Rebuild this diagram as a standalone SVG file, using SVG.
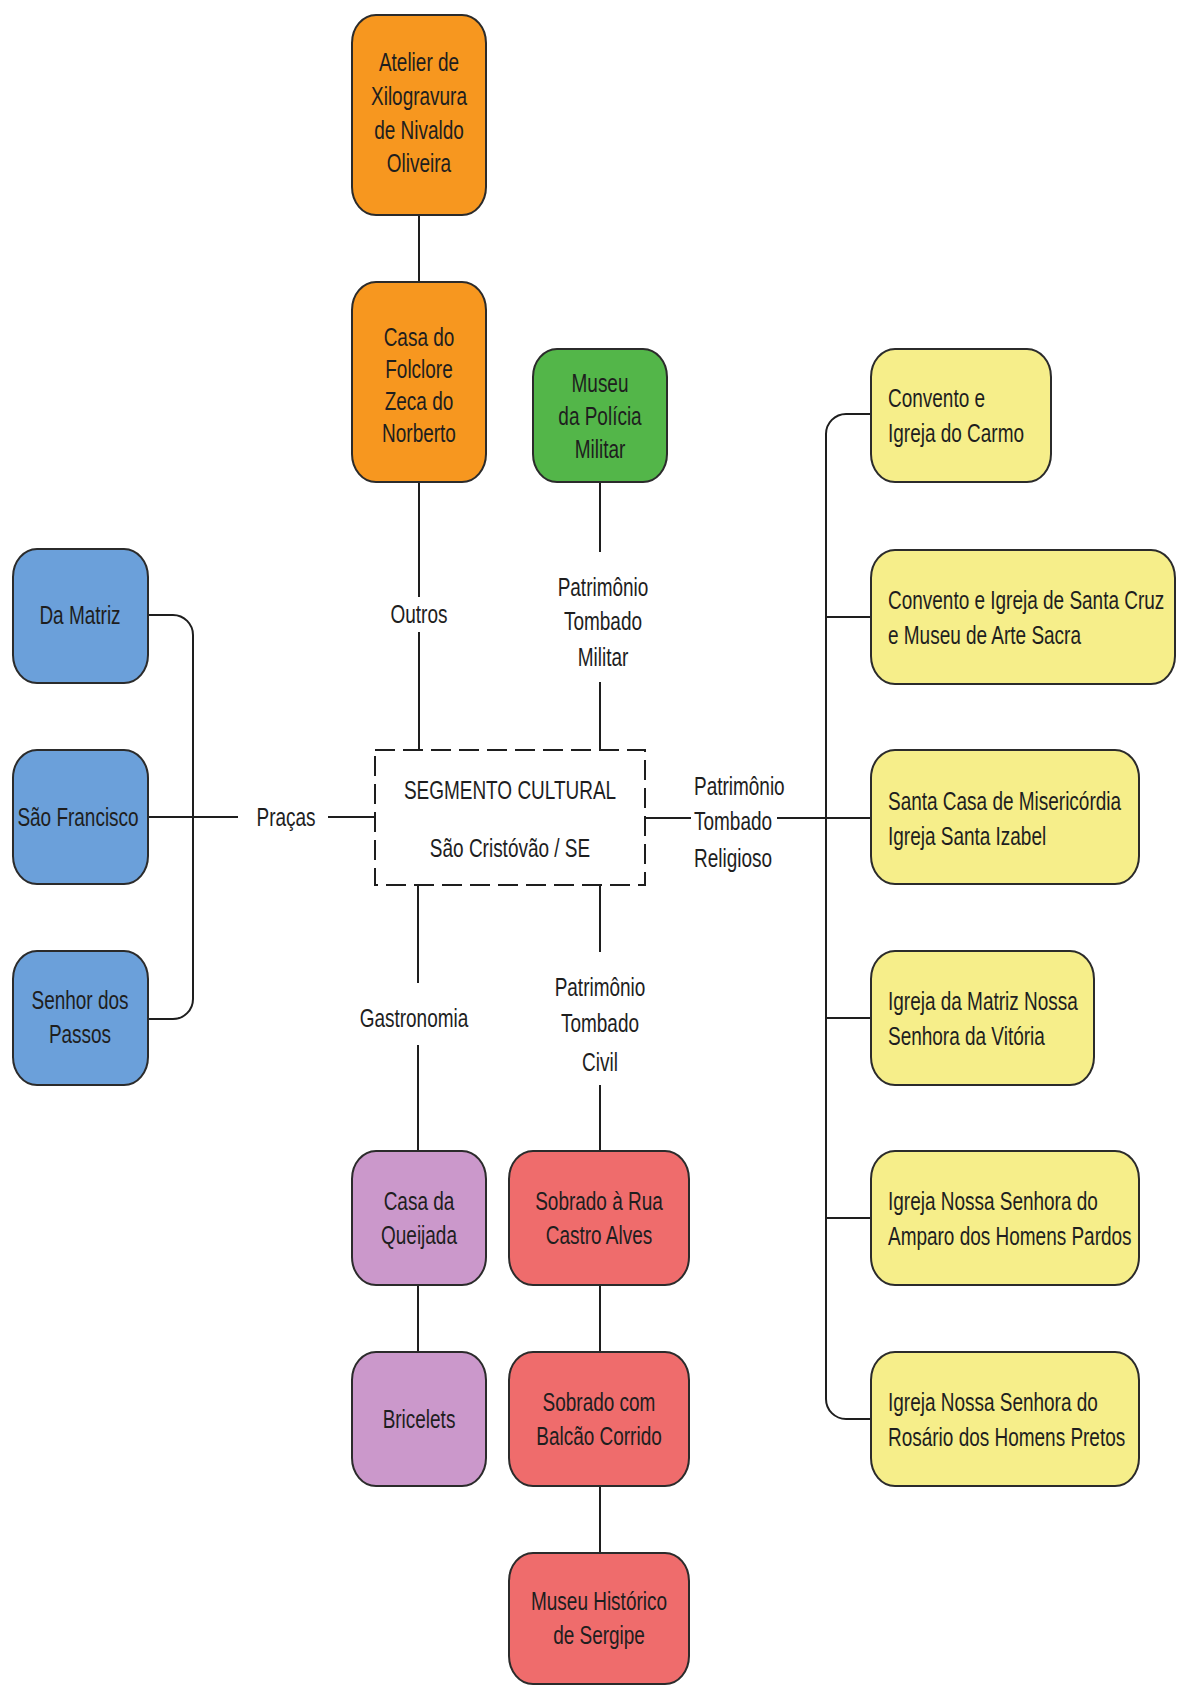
<svg xmlns="http://www.w3.org/2000/svg" width="1177" height="1686" viewBox="0 0 1177 1686">
<style>
.t{font-family:"Liberation Sans",Arial,sans-serif;font-size:26px;fill:#1e1e1e}
.c{text-anchor:middle}
.s{text-anchor:start}
.box{stroke:#2b2b2b;stroke-width:2}
.or{fill:#F7971F}
.gr{fill:#53B649}
.bl{fill:#6BA0DA}
.ye{fill:#F6EE8A}
.pu{fill:#CB98CB}
.rd{fill:#EF6C6C}
.ln{stroke:#1e1e1e;stroke-width:2;fill:none}
</style>
<rect width="1177" height="1686" fill="#ffffff"/>
<g id="connectors">
<line class="ln" x1="419" y1="215" x2="419" y2="282"/>
<line class="ln" x1="419" y1="482" x2="419" y2="597"/>
<line class="ln" x1="419" y1="632" x2="419" y2="750"/>
<line class="ln" x1="600" y1="482" x2="600" y2="552"/>
<line class="ln" x1="600" y1="682" x2="600" y2="750"/>
<line class="ln" x1="418" y1="885" x2="418" y2="983"/>
<line class="ln" x1="418" y1="1045" x2="418" y2="1151"/>
<line class="ln" x1="600" y1="885" x2="600" y2="952"/>
<line class="ln" x1="600" y1="1085" x2="600" y2="1151"/>
<line class="ln" x1="418" y1="1285" x2="418" y2="1352"/>
<line class="ln" x1="600" y1="1285" x2="600" y2="1352"/>
<line class="ln" x1="600" y1="1486" x2="600" y2="1553"/>
<line class="ln" x1="148" y1="817" x2="238" y2="817"/>
<line class="ln" x1="328" y1="817" x2="375" y2="817"/>
<path class="ln" d="M148,615 H173 A20,20 0 0 1 193,635 V999 A20,20 0 0 1 173,1019 H148"/>
<line class="ln" x1="645" y1="818" x2="691" y2="818"/>
<line class="ln" x1="777" y1="818" x2="871" y2="818"/>
<path class="ln" d="M871,414 H846 A20,20 0 0 0 826,434 V1399 A20,20 0 0 0 846,1419 H871"/>
<line class="ln" x1="826" y1="617" x2="871" y2="617"/>
<line class="ln" x1="826" y1="1018" x2="871" y2="1018"/>
<line class="ln" x1="826" y1="1218" x2="871" y2="1218"/>
<text class="t c" transform="translate(419 0) scale(0.73 1)"><tspan x="0" y="623">Outros</tspan></text>
<text class="t c" transform="translate(603 0) scale(0.73 1)"><tspan x="0" y="596">Patrimônio</tspan><tspan x="0" y="630">Tombado</tspan><tspan x="0" y="666">Militar</tspan></text>
<text class="t c" transform="translate(414 0) scale(0.73 1)"><tspan x="0" y="1027">Gastronomia</tspan></text>
<text class="t c" transform="translate(600 0) scale(0.73 1)"><tspan x="0" y="996">Patrimônio</tspan><tspan x="0" y="1032">Tombado</tspan><tspan x="0" y="1071">Civil</tspan></text>
<text class="t c" transform="translate(286 0) scale(0.73 1)"><tspan x="0" y="826">Praças</tspan></text>
<text class="t s" transform="translate(694 0) scale(0.73 1)"><tspan x="0" y="795">Patrimônio</tspan><tspan x="0" y="830">Tombado</tspan><tspan x="0" y="867">Religioso</tspan></text>
</g>
<g id="center">
<rect x="375" y="750" width="270" height="135" fill="#ffffff" stroke="#1e1e1e" stroke-width="2" stroke-dasharray="20 8"/>
<text class="t c" transform="translate(510 0) scale(0.73 1)"><tspan x="0" y="799">SEGMENTO CULTURAL</tspan><tspan x="0" y="857">São Cristóvão / SE</tspan></text>
</g>
<g id="atelier">
<rect class="box or" x="352" y="15" width="134" height="200" rx="24" ry="28"/>
<text class="t c" transform="translate(419 0) scale(0.73 1)"><tspan x="0" y="71">Atelier de</tspan><tspan x="0" y="105">Xilogravura</tspan><tspan x="0" y="139">de Nivaldo</tspan><tspan x="0" y="172">Oliveira</tspan></text>
</g>
<g id="folclore">
<rect class="box or" x="352" y="282" width="134" height="200" rx="24" ry="28"/>
<text class="t c" transform="translate(419 0) scale(0.73 1)"><tspan x="0" y="346">Casa do</tspan><tspan x="0" y="378">Folclore</tspan><tspan x="0" y="410">Zeca do</tspan><tspan x="0" y="442">Norberto</tspan></text>
</g>
<g id="museu-policia">
<rect class="box gr" x="533" y="349" width="134" height="133" rx="24" ry="28"/>
<text class="t c" transform="translate(600 0) scale(0.73 1)"><tspan x="0" y="392">Museu</tspan><tspan x="0" y="425">da Polícia</tspan><tspan x="0" y="458">Militar</tspan></text>
</g>
<g id="da-matriz">
<rect class="box bl" x="13" y="549" width="135" height="134" rx="24" ry="28"/>
<text class="t c" transform="translate(80 0) scale(0.73 1)"><tspan x="0" y="624">Da Matriz</tspan></text>
</g>
<g id="sao-francisco">
<rect class="box bl" x="13" y="750" width="135" height="134" rx="24" ry="28"/>
<text class="t c" transform="translate(78 0) scale(0.73 1)"><tspan x="0" y="826">São Francisco</tspan></text>
</g>
<g id="senhor-dos-passos">
<rect class="box bl" x="13" y="951" width="135" height="134" rx="24" ry="28"/>
<text class="t c" transform="translate(80 0) scale(0.73 1)"><tspan x="0" y="1009">Senhor dos</tspan><tspan x="0" y="1043">Passos</tspan></text>
</g>
<g id="carmo">
<rect class="box ye" x="871" y="349" width="180" height="133" rx="24" ry="28"/>
<text class="t s" transform="translate(888 0) scale(0.73 1)"><tspan x="0" y="407">Convento e</tspan><tspan x="0" y="442">Igreja do Carmo</tspan></text>
</g>
<g id="santa-cruz">
<rect class="box ye" x="871" y="550" width="304" height="134" rx="24" ry="28"/>
<text class="t s" transform="translate(888 0) scale(0.73 1)"><tspan x="0" y="609">Convento e Igreja de Santa Cruz</tspan><tspan x="0" y="644">e Museu de Arte Sacra</tspan></text>
</g>
<g id="santa-casa">
<rect class="box ye" x="871" y="750" width="268" height="134" rx="24" ry="28"/>
<text class="t s" transform="translate(888 0) scale(0.73 1)"><tspan x="0" y="810">Santa Casa de Misericórdia</tspan><tspan x="0" y="845">Igreja Santa Izabel</tspan></text>
</g>
<g id="matriz-vitoria">
<rect class="box ye" x="871" y="951" width="223" height="134" rx="24" ry="28"/>
<text class="t s" transform="translate(888 0) scale(0.73 1)"><tspan x="0" y="1010">Igreja da Matriz Nossa</tspan><tspan x="0" y="1045">Senhora da Vitória</tspan></text>
</g>
<g id="amparo">
<rect class="box ye" x="871" y="1151" width="268" height="134" rx="24" ry="28"/>
<text class="t s" transform="translate(888 0) scale(0.73 1)"><tspan x="0" y="1210">Igreja Nossa Senhora do</tspan><tspan x="0" y="1245">Amparo dos Homens Pardos</tspan></text>
</g>
<g id="rosario">
<rect class="box ye" x="871" y="1352" width="268" height="134" rx="24" ry="28"/>
<text class="t s" transform="translate(888 0) scale(0.73 1)"><tspan x="0" y="1411">Igreja Nossa Senhora do</tspan><tspan x="0" y="1446">Rosário dos Homens Pretos</tspan></text>
</g>
<g id="queijada">
<rect class="box pu" x="352" y="1151" width="134" height="134" rx="24" ry="28"/>
<text class="t c" transform="translate(419 0) scale(0.73 1)"><tspan x="0" y="1210">Casa da</tspan><tspan x="0" y="1244">Queijada</tspan></text>
</g>
<g id="bricelets">
<rect class="box pu" x="352" y="1352" width="134" height="134" rx="24" ry="28"/>
<text class="t c" transform="translate(419 0) scale(0.73 1)"><tspan x="0" y="1428">Bricelets</tspan></text>
</g>
<g id="sobrado-rua">
<rect class="box rd" x="509" y="1151" width="180" height="134" rx="24" ry="28"/>
<text class="t c" transform="translate(599 0) scale(0.73 1)"><tspan x="0" y="1210">Sobrado à Rua</tspan><tspan x="0" y="1244">Castro Alves</tspan></text>
</g>
<g id="sobrado-balcao">
<rect class="box rd" x="509" y="1352" width="180" height="134" rx="24" ry="28"/>
<text class="t c" transform="translate(599 0) scale(0.73 1)"><tspan x="0" y="1411">Sobrado com</tspan><tspan x="0" y="1445">Balcão Corrido</tspan></text>
</g>
<g id="museu-historico">
<rect class="box rd" x="509" y="1553" width="180" height="131" rx="24" ry="28"/>
<text class="t c" transform="translate(599 0) scale(0.73 1)"><tspan x="0" y="1610">Museu Histórico</tspan><tspan x="0" y="1644">de Sergipe</tspan></text>
</g>
</svg>
